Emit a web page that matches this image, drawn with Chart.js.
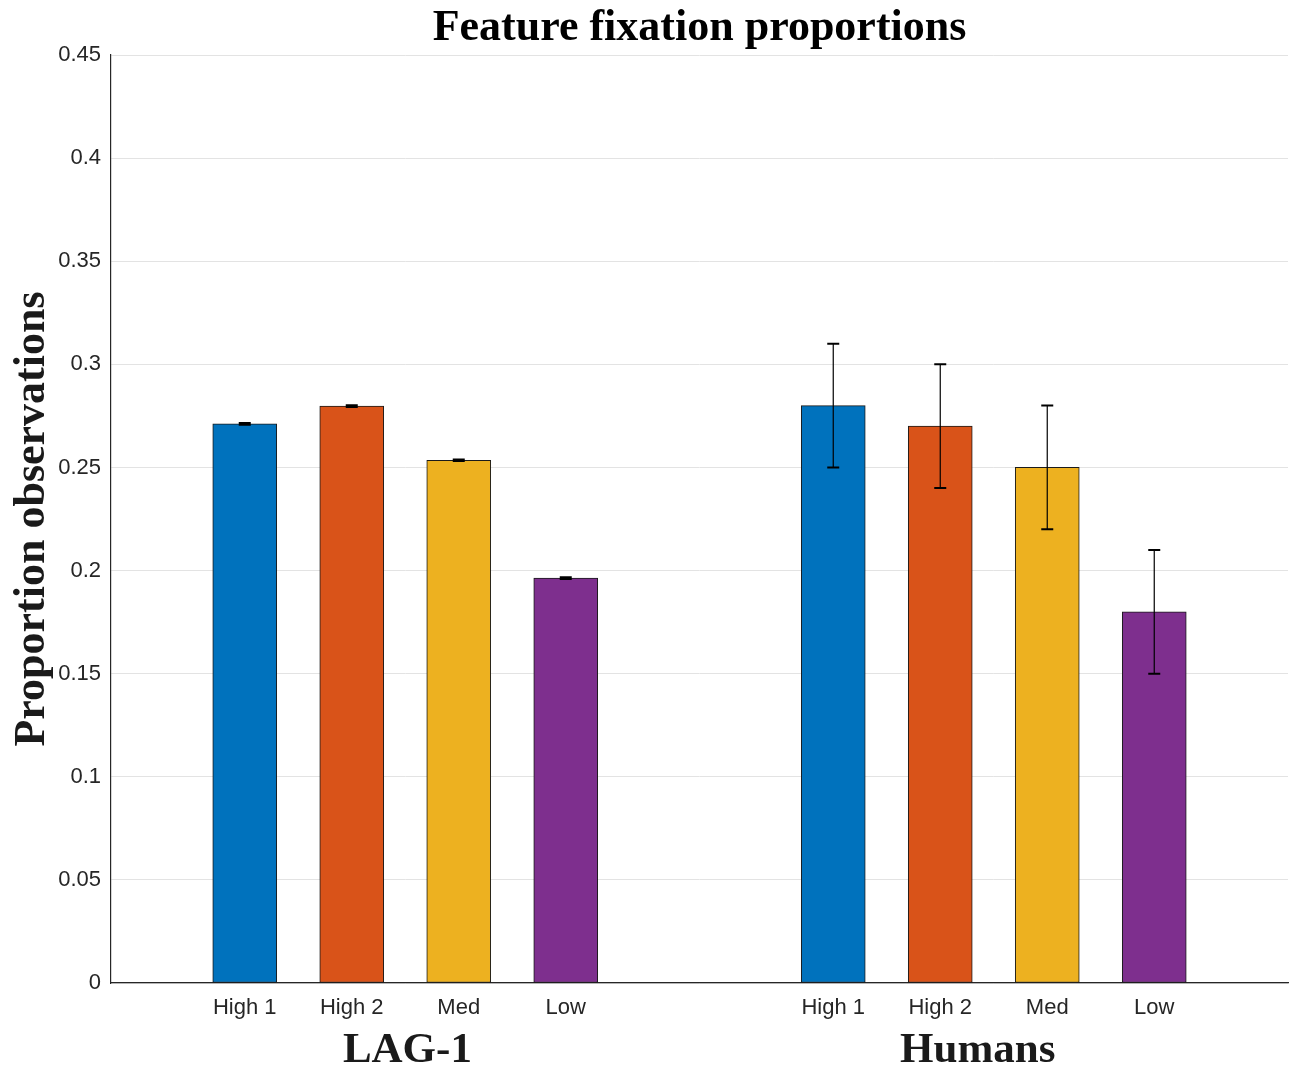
<!DOCTYPE html>
<html>
<head>
<meta charset="utf-8">
<script src="https://cdn.jsdelivr.net/npm/chart.js@4.4.0/dist/chart.umd.min.js"></script>
<style>
  html, body { margin: 0; padding: 0; background: #ffffff; }
  #wrap { width: 1293px; height: 1065px; }
</style>
</head>
<body>
<div id="wrap"><canvas id="chart" width="1293" height="1065"></canvas></div>
<script>
// Feature categories and the two groups compared
const features = ['High 1', 'High 2', 'Med', 'Low'];
const groups = ['LAG-1', 'Humans'];

// Proportion of observations per feature, with error half-widths
const lagValues = [0.2711, 0.2797, 0.2535, 0.1963];
const lagErrors = [0.0004, 0.0004, 0.0004, 0.0004];
const humanValues = [0.28, 0.27, 0.25, 0.18];
const humanErrors = [0.03, 0.03, 0.03, 0.03];

// Y axis range and tick step
const yMin = 0, yMax = 0.45, yStep = 0.05;

const featureColors = ['#0072BD', '#D95319', '#EDB120', '#7E2F8E'];
const serif = '"Liberation Serif", "Times New Roman", serif';
const sans = '"Liberation Sans", Arial, Helvetica, sans-serif';

// Slot layout on a linear x axis: each group holds four bars one unit apart
const groupStart = [1.25, 6.75];
const groupLabelX = [2.77, 8.1];
const xMax = 11;

const groupValues = [lagValues, humanValues];
const groupErrors = [lagErrors, humanErrors];

const points = [], colors = [], errors = [], tickLabels = [], tickPos = [];
groups.forEach((g, gi) => {
  features.forEach((f, fi) => {
    const x = groupStart[gi] + fi;
    points.push({ x: x, y: groupValues[gi][fi] });
    errors.push(groupErrors[gi][fi]);
    colors.push(featureColors[fi]);
    tickLabels.push(f);
    tickPos.push(x);
  });
});

// Vertical error bars with caps, drawn over the bars
const errorBars = {
  id: 'errorBars',
  afterDatasetsDraw(chart) {
    const ctx = chart.ctx;
    const ys = chart.scales.y;
    const meta = chart.getDatasetMeta(0);
    ctx.save();
    ctx.strokeStyle = '#000000';
    meta.data.forEach((bar, i) => {
      const v = points[i].y, e = errors[i];
      const top = ys.getPixelForValue(v + e);
      const bot = ys.getPixelForValue(v - e);
      const x = bar.x;
      ctx.lineWidth = 1.2;
      ctx.beginPath();
      ctx.moveTo(x, top); ctx.lineTo(x, bot);
      ctx.stroke();
      ctx.lineWidth = 2;
      ctx.beginPath();
      ctx.moveTo(x - 6, top); ctx.lineTo(x + 6, top);
      ctx.moveTo(x - 6, bot); ctx.lineTo(x + 6, bot);
      ctx.stroke();
    });
    ctx.restore();
  }
};

// Title, y-axis title and group captions
const annotations = {
  id: 'annotations',
  afterDraw(chart) {
    const ctx = chart.ctx;
    const area = chart.chartArea;
    const xs = chart.scales.x;
    ctx.save();
    ctx.fillStyle = '#000000';
    ctx.font = 'bold 44px ' + serif;
    ctx.textAlign = 'center';
    ctx.textBaseline = 'alphabetic';
    ctx.fillText('Feature fixation proportions', (area.left + area.right) / 2, 40);

    ctx.fillStyle = '#1a1a1a';
    ctx.font = 'bold 43px ' + serif;
    groups.forEach((g, gi) => {
      ctx.fillText(g, xs.getPixelForValue(groupLabelX[gi]), 1062);
    });

    ctx.save();
    ctx.translate(44, (area.top + area.bottom) / 2);
    ctx.rotate(-Math.PI / 2);
    ctx.font = 'bold 44px ' + serif;
    ctx.fillStyle = '#1a1a1a';
    ctx.fillText('Proportion observations', 0, 0);
    ctx.restore();
    ctx.restore();
  }
};

new Chart(document.getElementById('chart'), {
  type: 'bar',
  data: {
    datasets: [{
      data: points,
      backgroundColor: colors,
      borderColor: '#1a1a1a',
      borderWidth: 1,
      borderSkipped: false,
      barThickness: 64
    }]
  },
  options: {
    responsive: false,
    animation: false,
    devicePixelRatio: 1,
    layout: { padding: { top: 55, right: 5, bottom: 0, left: 0 } },
    plugins: {
      legend: { display: false },
      tooltip: { enabled: false },
      title: { display: false }
    },
    scales: {
      x: {
        type: 'linear',
        min: 0,
        max: xMax,
        offset: false,
        afterFit(scale) { scale.height = 82; },
        afterBuildTicks(scale) { scale.ticks = tickPos.map(v => ({ value: v })); },
        grid: { display: false, drawTicks: false, offset: false },
        border: { display: true, color: '#262626', width: 1.2 },
        ticks: {
          autoSkip: false,
          maxRotation: 0,
          padding: 12,
          color: '#262626',
          font: { family: sans, size: 22 },
          callback: (value, index) => tickLabels[index]
        }
      },
      y: {
        min: yMin,
        max: yMax,
        afterFit(scale) { scale.width = 111; },
        grid: { color: '#e3e3e3', lineWidth: 1, drawTicks: false },
        border: { display: true, color: '#262626', width: 1.2 },
        ticks: {
          stepSize: yStep,
          padding: 10,
          color: '#262626',
          font: { family: sans, size: 22 },
          callback: v => String(parseFloat(v.toFixed(2)))
        }
      }
    }
  },
  plugins: [errorBars, annotations]
});
</script>
</body>
</html>
